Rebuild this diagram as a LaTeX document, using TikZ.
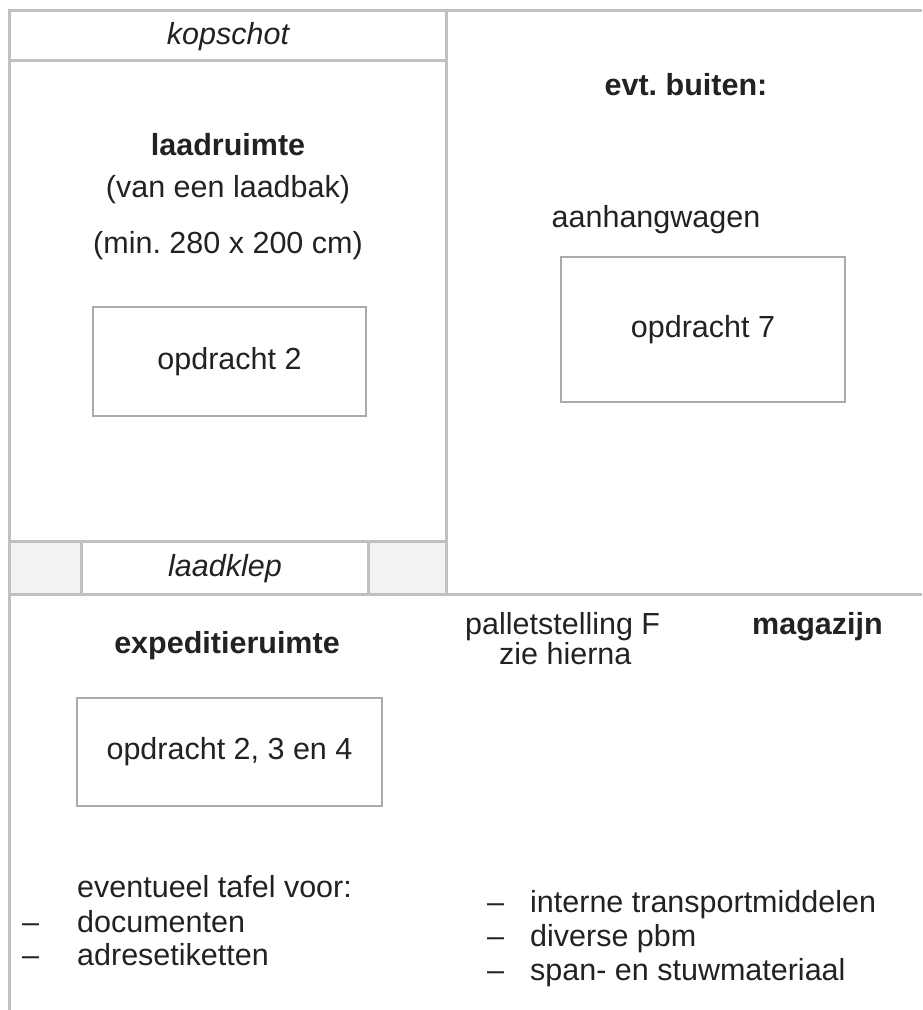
\documentclass[tikz,border=0pt]{standalone}
\usepackage{fontspec}
\setmainfont{Liberation Sans}
\frenchspacing
\definecolor{wandgrijs}{HTML}{C0C0C0}
\definecolor{vakgrijs}{HTML}{ABABAB}
\definecolor{klepgrijs}{HTML}{F2F2F2}
\definecolor{tekst}{HTML}{222222}

\begin{document}
\begin{tikzpicture}[x=1pt,y=-1pt,
    wand/.style={draw=wandgrijs, line width=3pt},
    vak/.style={draw=vakgrijs, line width=1.5pt, anchor=center},
    every node/.style={font=\fontsize{30.5}{36}\selectfont, text=tekst, inner sep=0pt, anchor=base}]
      \useasboundingbox (0,0) rectangle (922,1010);
      % laadklep cellen
      \fill[klepgrijs]  (9,541) rectangle (81,594);
      \fill[klepgrijs]  (368,541) rectangle (446,594);
      % wanden
      \draw[wand]       (922,10) -- (9,10) -- (9,1010);
      \draw[wand]       (446,10) -- (446,594);
      \draw[wand]       (9,60) -- (446,60);
      \draw[wand]       (9,541) -- (446,541);
      \draw[wand]       (9,594) -- (922,594);
      \draw[wand]       (81,541) -- (81,594);
      \draw[wand]       (368,541) -- (368,594);
      % laadruimte
      \node             (kop) at (228,44) {\itshape kopschot};
      \node             (laad) at (228,155) {\bfseries laadruimte};
      \node             (bak) at (228,197) {(van een laadbak)};
      \node             (maat) at (228,253) {(min. 280 x 200 cm)};
      \node[vak, minimum width=273pt, minimum height=109pt] (opd2) at (229.5,361.5) {opdracht 2};
      \node             (klep) at (225,576) {\itshape laadklep};
      % buiten
      \node             (buiten) at (686,95) {\bfseries evt. buiten:};
      \node             (wagen) at (656,227) {aanhangwagen};
      \node[vak, minimum width=284pt, minimum height=145pt] (opd7) at (703,329.5) {opdracht 7};
      % expeditieruimte
      \node             (exp) at (227,653) {\bfseries expeditieruimte};
      \node[vak, minimum width=305pt, minimum height=108pt] (opd234) at (229.5,752) {opdracht 2, 3 en 4};
      \node[anchor=base west] (tafel) at (77,897) {eventueel tafel voor:};
      \foreach \y/\item in {932/documenten, 965/adresetiketten} {
        \node[anchor=base west] (streep\y) at (22,\y) {\textendash};
        \node[anchor=base west] (punt\y) at (77,\y) {\item};
      }
      % magazijn
      \node[anchor=base west] (stelling) at (465,634) {palletstelling F};
      \node[anchor=base west] (hierna) at (499,664) {zie hierna};
      \node[anchor=base west] (mag) at (752,634) {\bfseries magazijn};
      \foreach \y/\item in {912/interne transportmiddelen, 946/diverse pbm, 980/span- en stuwmateriaal} {
        \node[anchor=base west] (streep\y) at (487,\y) {\textendash};
        \node[anchor=base west] (punt\y) at (530,\y) {\item};
      }
    \end{tikzpicture}
\end{document}
